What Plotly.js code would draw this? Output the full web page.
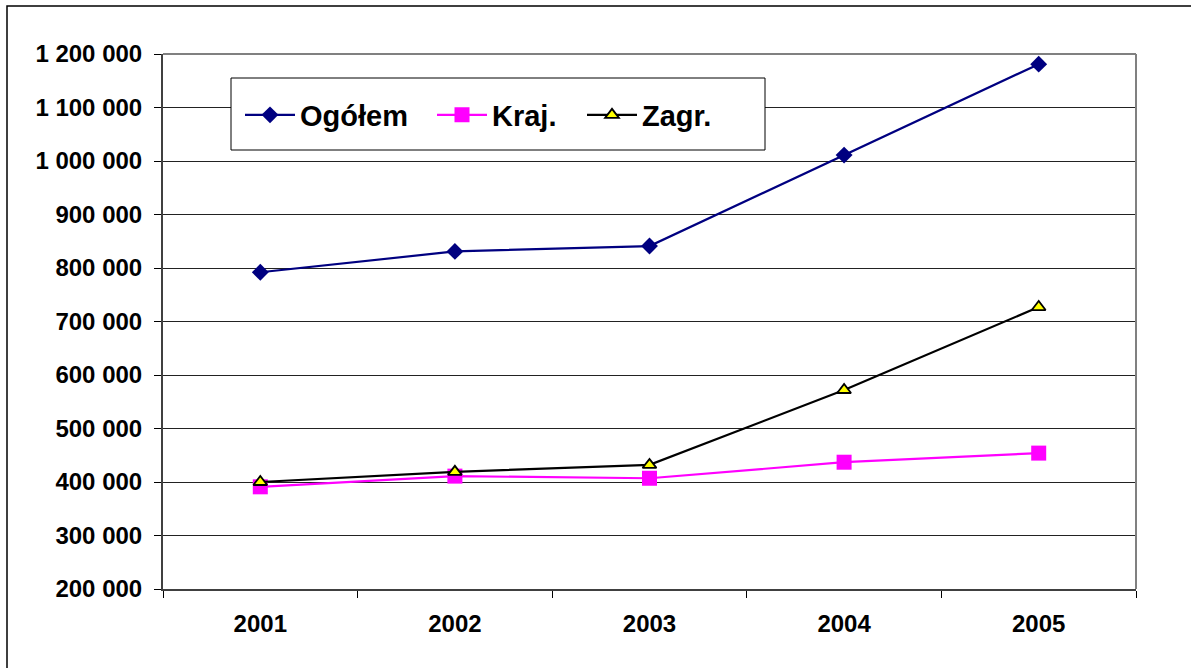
<!DOCTYPE html>
<html>
<head>
<meta charset="utf-8">
<script src="https://cdn.plot.ly/plotly-3.0.1.min.js"></script>
<style>
html,body{margin:0;padding:0;background:#fff;}
#chart{width:1191px;height:668px;}
</style>
</head>
<body>
<div id="chart"></div>
<script>
const years = ['2001', '2002', '2003', '2004', '2005'];
const ogolem = [792000, 831000, 841000, 1011000, 1181000];
const kraj = [391000, 411000, 407000, 437000, 454000];
const zagr = [400000, 419000, 432000, 572000, 727000];
const seriesNames = ['Ogółem', 'Kraj.', 'Zagr.'];
const yTicks = [200000, 300000, 400000, 500000, 600000, 700000, 800000, 900000, 1000000, 1100000, 1200000];

const FONT = 'Arial, "Liberation Sans", sans-serif';

const traces = [
  {x: years, y: ogolem, name: seriesNames[0], type: 'scatter', mode: 'lines+markers',
   line: {color: '#000080', width: 2.2},
   marker: {symbol: 'diamond', size: 13, color: '#000080'}, legend: 'legend'},
  {x: years, y: kraj, name: seriesNames[1], type: 'scatter', mode: 'lines+markers',
   line: {color: '#FF00FF', width: 2.2},
   marker: {symbol: 'square', size: 15, color: '#FF00FF'}, legend: 'legend2'},
  {x: years, y: zagr, name: seriesNames[2], type: 'scatter', mode: 'lines+markers',
   line: {color: '#000000', width: 2.2},
   marker: {symbol: 'triangle-up', size: 12, color: '#FFFF00', line: {color: '#000000', width: 1.8}}, legend: 'legend3'}
];

const L = 163, R = 1136, T = 54, B = 589, W = 1191, H = 668;
const px = v => (v - L) / (R - L);
const py = v => (B - v) / (B - T);

const legFont = {family: FONT, size: 29, color: '#000', weight: 'bold'};
const legCommon = {orientation: 'h', bgcolor: 'rgba(0,0,0,0)', borderwidth: 0, font: legFont,
  xanchor: 'left', yanchor: 'middle', itemwidth: 50, y: py(115)};

const layout = {
  width: W, height: H,
  margin: {l: L, r: W - R, t: T, b: H - B, pad: 0},
  paper_bgcolor: '#ffffff', plot_bgcolor: '#ffffff',
  separators: ', ',
  showlegend: true,
  legend: Object.assign({}, legCommon, {x: px(240)}),
  legend2: Object.assign({}, legCommon, {x: px(432)}),
  legend3: Object.assign({}, legCommon, {x: px(582)}),
  xaxis: {
    type: 'category', range: [-0.5, 4.5], tickson: 'boundaries',
    ticks: 'outside', ticklen: 7, tickwidth: 1, tickcolor: '#000',
    showgrid: false, showline: true, linecolor: '#404040', linewidth: 2,
    tickfont: {family: FONT, size: 24, color: '#000', weight: 'bold'},
    ticklabelstandoff: 12, zeroline: false
  },
  yaxis: {
    range: [200000, 1200000], tickvals: yTicks, tickformat: ',.0f',
    ticks: 'outside', ticklen: 7, tickwidth: 1, tickcolor: '#000',
    showgrid: true, gridcolor: '#222', gridwidth: 1,
    showline: true, linecolor: '#404040', linewidth: 2, zeroline: false,
    tickfont: {family: FONT, size: 24, color: '#000', weight: 'bold'},
    ticklabelstandoff: 7
  },
  shapes: [
    {type: 'line', xref: 'paper', yref: 'paper', x0: 0, x1: 1, y0: 1, y1: 1, line: {color: '#808080', width: 2}},
    {type: 'line', xref: 'paper', yref: 'paper', x0: 1, x1: 1, y0: 0, y1: 1, line: {color: '#808080', width: 2}},
    {type: 'rect', xref: 'paper', yref: 'paper', layer: 'above',
     x0: px(231), x1: px(765), y0: py(150), y1: py(78),
     fillcolor: '#ffffff', line: {color: '#000', width: 1}},
    {type: 'rect', xref: 'paper', yref: 'paper',
     x0: px(7), x1: px(1210), y0: py(690), y1: py(6),
     fillcolor: 'rgba(0,0,0,0)', line: {color: '#000', width: 1.5}}
  ]
};

Plotly.newPlot('chart', traces, layout, {displayModeBar: false, staticPlot: true});
</script>
</body>
</html>
